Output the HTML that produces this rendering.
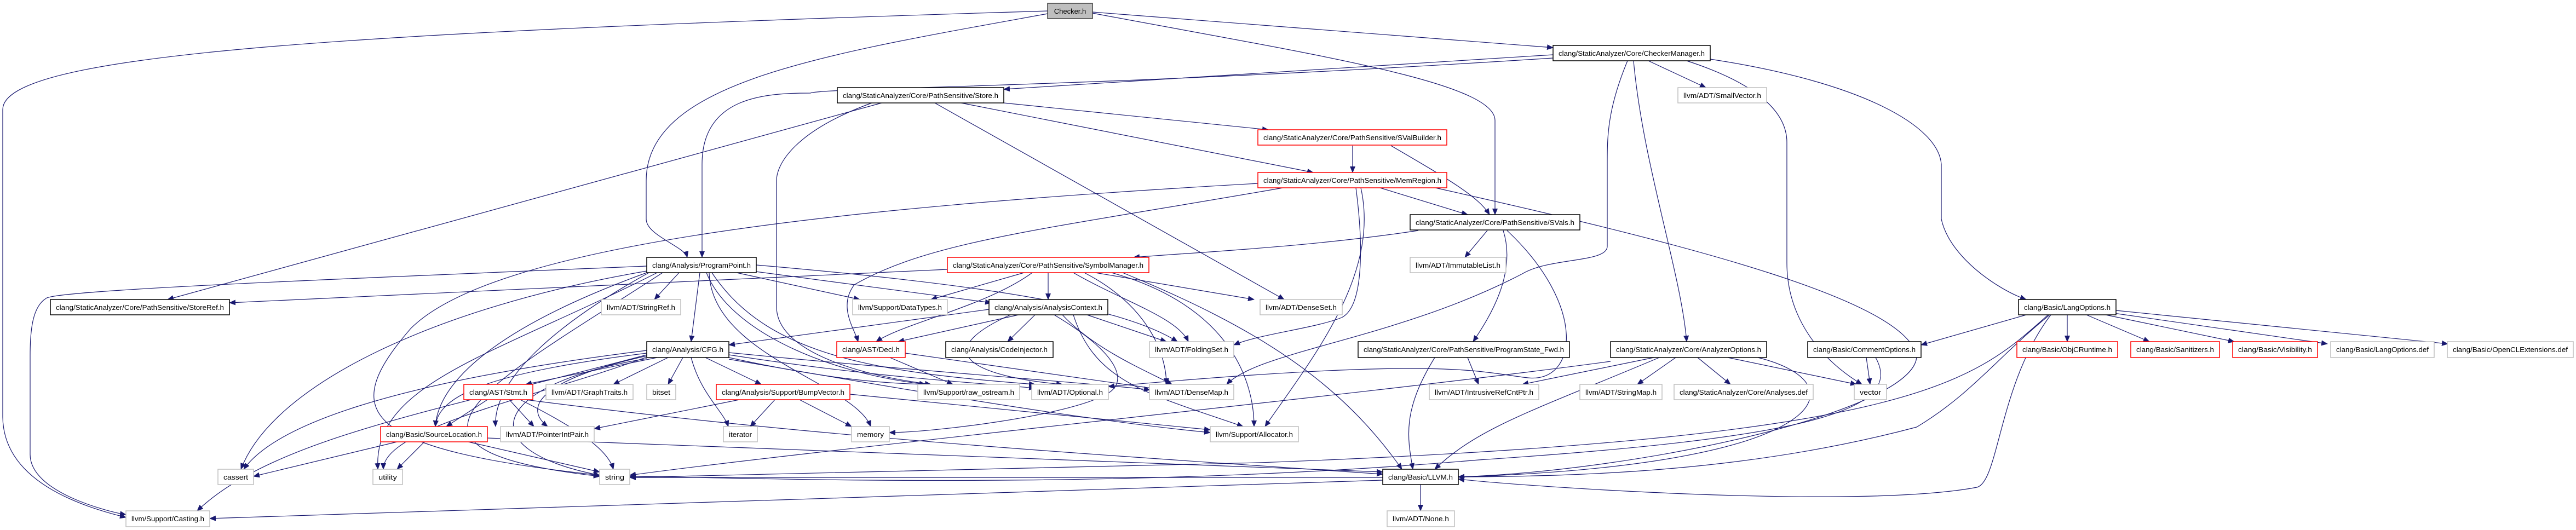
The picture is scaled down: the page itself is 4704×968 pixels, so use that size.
<!DOCTYPE html>
<html><head><meta charset="utf-8"><style>
html,body{margin:0;padding:0;background:#fff;width:4704px;height:968px;overflow:hidden}
svg{display:block}
text{font-family:"Liberation Sans",Arial,sans-serif;font-size:13px;fill:#000}
.n rect{fill:#fff}
.b rect{stroke:#000;stroke-width:1.5}
.g rect{stroke:#bfbfbf;stroke-width:1.5}
.r rect{stroke:#ff0000;stroke-width:1.5}
path{fill:none;stroke:#191970;stroke-width:1.2}
</style></head><body>
<svg width="4704" height="968" viewBox="0 0 4704 968" xmlns="http://www.w3.org/2000/svg">
<defs><marker id="a" markerUnits="userSpaceOnUse" markerWidth="12" markerHeight="10" refX="11" refY="5" orient="auto"><polygon points="0,0 12,5 0,10" fill="#191970"/></marker></defs>
<g marker-end="url(#a)">
<path d="M1913,20 C600,60 5,100 5,200 L5,760 C5,880 150,925 230,945"/>
<path d="M1913,25 C1500,100 1180,150 1180,330 L1180,400 C1180,430 1250,450 1255,470"/>
<path d="M1995,22 L2836,87"/>
<path d="M1995,24 C2400,100 2730,150 2730,220 L2730,392"/>
<path d="M2836,100 L1833,163"/>
<path d="M2836,106 C2000,160 1500,160 1480,170 C1400,170 1282,175 1282,300 L1282,470"/>
<path d="M3010,111 L3115,160"/>
<path d="M2983,111 C3000,300 3070,500 3080,624"/>
<path d="M3123,108 C3400,150 3540,230 3545,300 L3545,400 C3560,470 3650,530 3700,547"/>
<path d="M3080,111 C3200,150 3263,200 3263,260 L3263,480 C3263,620 3380,690 3400,702"/>
<path d="M2972,111 C2935,200 2935,250 2935,300 L2935,450 C2935,480 2830,470 2780,500 C2550,620 2300,640 2240,702"/>
<path d="M1610,188 L306,547"/>
<path d="M1833,188 L2316,237"/>
<path d="M1755,188 L2398,315"/>
<path d="M1707,188 L2345,547"/>
<path d="M1592,188 C1450,240 1418,300 1418,330 L1418,560 C1418,650 1600,690 1700,702"/>
<path d="M2470,266 L2470,315"/>
<path d="M2540,266 C2650,330 2700,360 2720,392"/>
<path d="M2520,343 L2680,392"/>
<path d="M2297,335 C1500,380 900,450 750,600 C620,750 650,820 1095,868"/>
<path d="M2343,343 C1900,420 1700,440 1560,520 C1530,560 1560,600 1567,624"/>
<path d="M2476,343 C2490,450 2490,560 2450,580 C2400,600 2300,610 2253,630"/>
<path d="M2485,343 C2520,500 2400,650 2310,779"/>
<path d="M2621,343 C3100,450 3480,550 3500,650 C3500,750 3000,860 2663,871"/>
<path d="M2590,421 C2400,450 2200,460 2070,470"/>
<path d="M2716,421 L2675,470"/>
<path d="M2745,421 C2770,500 2720,580 2690,624"/>
<path d="M2752,421 C2900,560 2880,700 2790,690 C2700,680 2650,650 2024,706"/>
<path d="M2620,653 C2560,750 2570,800 2580,857"/>
<path d="M2680,653 L2700,702"/>
<path d="M3020,653 L2780,702"/>
<path d="M3060,653 L2990,702"/>
<path d="M3100,653 L3160,702"/>
<path d="M3155,653 L3390,702"/>
<path d="M3030,653 C2800,750 2700,780 2620,857"/>
<path d="M2941,660 C2500,720 1500,820 1150,868"/>
<path d="M3210,653 C3400,700 3350,850 2663,871"/>
<path d="M3408,653 L3415,702"/>
<path d="M3425,653 C3480,750 3300,800 2700,840 C2000,900 1300,870 1150,870"/>
<path d="M3700,575 L3508,630"/>
<path d="M3775,575 L3775,624"/>
<path d="M3810,575 L3925,624"/>
<path d="M3845,575 L4080,624"/>
<path d="M3860,572 L4250,628"/>
<path d="M3864,567 L4470,628"/>
<path d="M3740,575 C3600,700 3500,800 2300,845 L1150,872"/>
<path d="M3743,575 C3650,650 3600,720 3500,780 C3200,860 2900,870 2663,871"/>
<path d="M3745,575 C3650,700 3650,880 3610,890 C3400,930 2800,890 2663,875"/>
<path d="M1870,498 L1700,547"/>
<path d="M1914,498 L1914,547"/>
<path d="M1885,498 C1800,560 1650,590 1600,624"/>
<path d="M2000,498 L2290,547"/>
<path d="M1960,498 C2050,550 2150,580 2170,624"/>
<path d="M1980,498 C2100,560 2130,650 2130,702"/>
<path d="M2030,498 C2250,560 2290,700 2290,779"/>
<path d="M2050,498 C2300,600 2450,700 2560,857"/>
<path d="M1730,492 L419,553"/>
<path d="M1240,498 L1195,547"/>
<path d="M1278,498 L1262,624"/>
<path d="M1345,498 L1570,547"/>
<path d="M1380,496 L1810,553"/>
<path d="M1381,484 C1800,520 2050,560 2150,624"/>
<path d="M1300,498 C1400,650 1600,680 1890,702"/>
<path d="M1290,498 C1330,600 1500,680 1690,702"/>
<path d="M1181,495 C800,560 500,700 440,857"/>
<path d="M1181,498 C900,600 800,700 795,779"/>
<path d="M1185,498 C1000,600 900,700 905,779"/>
<path d="M1200,498 C900,650 680,700 690,857"/>
<path d="M1210,498 C900,700 650,820 1095,870"/>
<path d="M1295,498 C1300,650 1560,700 1590,779"/>
<path d="M1181,486 C600,510 100,530 84,545 C60,560 55,600 55,650 L55,830 C55,900 200,935 230,940"/>
<path d="M1806,565 L1331,630"/>
<path d="M1860,575 L1640,624"/>
<path d="M1890,575 L1840,624"/>
<path d="M1985,575 L2130,624"/>
<path d="M1940,575 C2000,640 2100,680 2140,702"/>
<path d="M1960,575 C2000,700 2100,720 2270,779"/>
<path d="M1845,575 C1680,650 1800,690 1940,702"/>
<path d="M1925,575 C2050,650 2060,700 2020,720 C1950,760 1700,790 1624,790"/>
<path d="M1200,653 L960,702"/>
<path d="M1220,653 L1120,702"/>
<path d="M1247,653 L1220,702"/>
<path d="M1288,653 L1390,702"/>
<path d="M1262,653 C1280,720 1320,750 1330,779"/>
<path d="M1331,653 C1500,690 1600,700 1690,702"/>
<path d="M1331,648 C1600,690 1800,700 1890,709"/>
<path d="M1331,644 C1700,680 2000,700 2100,712"/>
<path d="M1331,656 C1700,720 2000,770 2210,790"/>
<path d="M1181,645 C900,680 800,720 795,779"/>
<path d="M1181,650 C1000,690 950,740 1000,779"/>
<path d="M1181,640 C700,700 500,780 445,857"/>
<path d="M1181,648 C800,750 500,800 360,933"/>
<path d="M1181,655 C900,700 850,820 1095,868"/>
<path d="M1181,652 C1000,720 700,780 700,857"/>
<path d="M1625,653 L1740,702"/>
<path d="M1653,645 L2110,710"/>
<path d="M890,730 L815,779"/>
<path d="M930,730 L975,779"/>
<path d="M950,730 C1050,780 1110,820 1120,857"/>
<path d="M960,730 C1500,800 2000,830 2525,866"/>
<path d="M725,807 L463,870"/>
<path d="M775,807 L725,857"/>
<path d="M855,807 L1095,862"/>
<path d="M890,800 L2525,862"/>
<path d="M1415,730 L1370,779"/>
<path d="M1460,730 L1555,779"/>
<path d="M1350,730 L1085,783"/>
<path d="M1552,720 L2210,785"/>
<path d="M2594,885 L2594,933"/>
<path d="M2525,877 L383,947"/>
<path d="M2525,872 L1150,872"/>
</g>
<g class="n">
<g><rect x="1913" y="6" width="82" height="28" fill="#bfbfbf" style="fill:#bfbfbf;stroke:#404040;stroke-width:1.5"/><text x="1954" y="25" text-anchor="middle">Checker.h</text></g>
<g class="b"><rect x="2836" y="83" width="287" height="28"/><text x="2846" y="102" textLength="267" lengthAdjust="spacingAndGlyphs">clang/StaticAnalyzer/Core/CheckerManager.h</text></g>
<g class="b"><rect x="1529" y="160" width="304" height="28"/><text x="1539" y="179" textLength="284" lengthAdjust="spacingAndGlyphs">clang/StaticAnalyzer/Core/PathSensitive/Store.h</text></g>
<g class="g"><rect x="3064" y="160" width="162" height="28"/><text x="3074" y="179" textLength="142" lengthAdjust="spacingAndGlyphs">llvm/ADT/SmallVector.h</text></g>
<g class="r"><rect x="2297" y="237" width="345" height="28"/><text x="2307" y="256" textLength="325" lengthAdjust="spacingAndGlyphs">clang/StaticAnalyzer/Core/PathSensitive/SValBuilder.h</text></g>
<g class="r"><rect x="2297" y="315" width="345" height="28"/><text x="2307" y="334" textLength="325" lengthAdjust="spacingAndGlyphs">clang/StaticAnalyzer/Core/PathSensitive/MemRegion.h</text></g>
<g class="b"><rect x="2575" y="392" width="310" height="28"/><text x="2585" y="411" textLength="290" lengthAdjust="spacingAndGlyphs">clang/StaticAnalyzer/Core/PathSensitive/SVals.h</text></g>
<g class="b"><rect x="1181" y="470" width="200" height="28"/><text x="1191" y="489" textLength="180" lengthAdjust="spacingAndGlyphs">clang/Analysis/ProgramPoint.h</text></g>
<g class="r"><rect x="1730" y="470" width="368" height="28"/><text x="1740" y="489" textLength="348" lengthAdjust="spacingAndGlyphs">clang/StaticAnalyzer/Core/PathSensitive/SymbolManager.h</text></g>
<g class="g"><rect x="2575" y="470" width="175" height="28"/><text x="2585" y="489" textLength="155" lengthAdjust="spacingAndGlyphs">llvm/ADT/ImmutableList.h</text></g>
<g class="b"><rect x="92" y="547" width="327" height="28"/><text x="102" y="566" textLength="307" lengthAdjust="spacingAndGlyphs">clang/StaticAnalyzer/Core/PathSensitive/StoreRef.h</text></g>
<g class="g"><rect x="1098" y="547" width="145" height="28"/><text x="1108" y="566" textLength="125" lengthAdjust="spacingAndGlyphs">llvm/ADT/StringRef.h</text></g>
<g class="g"><rect x="1557" y="547" width="173" height="28"/><text x="1567" y="566" textLength="153" lengthAdjust="spacingAndGlyphs">llvm/Support/DataTypes.h</text></g>
<g class="b"><rect x="1806" y="547" width="217" height="28"/><text x="1816" y="566" textLength="197" lengthAdjust="spacingAndGlyphs">clang/Analysis/AnalysisContext.h</text></g>
<g class="g"><rect x="2301" y="547" width="150" height="28"/><text x="2311" y="566" textLength="130" lengthAdjust="spacingAndGlyphs">llvm/ADT/DenseSet.h</text></g>
<g class="b"><rect x="3686" y="547" width="178" height="28"/><text x="3696" y="566" textLength="158" lengthAdjust="spacingAndGlyphs">clang/Basic/LangOptions.h</text></g>
<g class="b"><rect x="1181" y="624" width="150" height="29"/><text x="1191" y="643" textLength="130" lengthAdjust="spacingAndGlyphs">clang/Analysis/CFG.h</text></g>
<g class="r"><rect x="1528" y="624" width="125" height="29"/><text x="1538" y="643" textLength="105" lengthAdjust="spacingAndGlyphs">clang/AST/Decl.h</text></g>
<g class="b"><rect x="1727" y="624" width="196" height="29"/><text x="1737" y="643" textLength="176" lengthAdjust="spacingAndGlyphs">clang/Analysis/CodeInjector.h</text></g>
<g class="g"><rect x="2099" y="624" width="154" height="29"/><text x="2109" y="643" textLength="134" lengthAdjust="spacingAndGlyphs">llvm/ADT/FoldingSet.h</text></g>
<g class="b"><rect x="2480" y="624" width="386" height="29"/><text x="2490" y="643" textLength="366" lengthAdjust="spacingAndGlyphs">clang/StaticAnalyzer/Core/PathSensitive/ProgramState_Fwd.h</text></g>
<g class="b"><rect x="2941" y="624" width="285" height="29"/><text x="2951" y="643" textLength="265" lengthAdjust="spacingAndGlyphs">clang/StaticAnalyzer/Core/AnalyzerOptions.h</text></g>
<g class="b"><rect x="3301" y="624" width="207" height="29"/><text x="3311" y="643" textLength="187" lengthAdjust="spacingAndGlyphs">clang/Basic/CommentOptions.h</text></g>
<g class="r"><rect x="3683" y="624" width="184" height="29"/><text x="3693" y="643" textLength="164" lengthAdjust="spacingAndGlyphs">clang/Basic/ObjCRuntime.h</text></g>
<g class="r"><rect x="3891" y="624" width="162" height="29"/><text x="3901" y="643" textLength="142" lengthAdjust="spacingAndGlyphs">clang/Basic/Sanitizers.h</text></g>
<g class="r"><rect x="4077" y="624" width="155" height="29"/><text x="4087" y="643" textLength="135" lengthAdjust="spacingAndGlyphs">clang/Basic/Visibility.h</text></g>
<g class="g"><rect x="4256" y="624" width="189" height="29"/><text x="4266" y="643" textLength="169" lengthAdjust="spacingAndGlyphs">clang/Basic/LangOptions.def</text></g>
<g class="g"><rect x="4469" y="624" width="230" height="29"/><text x="4479" y="643" textLength="210" lengthAdjust="spacingAndGlyphs">clang/Basic/OpenCLExtensions.def</text></g>
<g class="r"><rect x="847" y="702" width="126" height="28"/><text x="857" y="721" textLength="106" lengthAdjust="spacingAndGlyphs">clang/AST/Stmt.h</text></g>
<g class="g"><rect x="997" y="702" width="159" height="28"/><text x="1007" y="721" textLength="139" lengthAdjust="spacingAndGlyphs">llvm/ADT/GraphTraits.h</text></g>
<g class="g"><rect x="1181" y="702" width="53" height="28"/><text x="1191" y="721" textLength="33" lengthAdjust="spacingAndGlyphs">bitset</text></g>
<g class="r"><rect x="1308" y="702" width="244" height="28"/><text x="1318" y="721" textLength="224" lengthAdjust="spacingAndGlyphs">clang/Analysis/Support/BumpVector.h</text></g>
<g class="g"><rect x="1676" y="702" width="186" height="28"/><text x="1686" y="721" textLength="166" lengthAdjust="spacingAndGlyphs">llvm/Support/raw_ostream.h</text></g>
<g class="g"><rect x="1884" y="702" width="140" height="28"/><text x="1894" y="721" textLength="120" lengthAdjust="spacingAndGlyphs">llvm/ADT/Optional.h</text></g>
<g class="g"><rect x="2099" y="702" width="154" height="28"/><text x="2109" y="721" textLength="134" lengthAdjust="spacingAndGlyphs">llvm/ADT/DenseMap.h</text></g>
<g class="g"><rect x="2610" y="702" width="200" height="28"/><text x="2620" y="721" textLength="180" lengthAdjust="spacingAndGlyphs">llvm/ADT/IntrusiveRefCntPtr.h</text></g>
<g class="g"><rect x="2885" y="702" width="150" height="28"/><text x="2895" y="721" textLength="130" lengthAdjust="spacingAndGlyphs">llvm/ADT/StringMap.h</text></g>
<g class="g"><rect x="3057" y="702" width="254" height="28"/><text x="3067" y="721" textLength="234" lengthAdjust="spacingAndGlyphs">clang/StaticAnalyzer/Core/Analyses.def</text></g>
<g class="g"><rect x="3386" y="702" width="59" height="28"/><text x="3396" y="721" textLength="39" lengthAdjust="spacingAndGlyphs">vector</text></g>
<g class="r"><rect x="695" y="779" width="195" height="28"/><text x="705" y="798" textLength="175" lengthAdjust="spacingAndGlyphs">clang/Basic/SourceLocation.h</text></g>
<g class="g"><rect x="914" y="779" width="171" height="28"/><text x="924" y="798" textLength="151" lengthAdjust="spacingAndGlyphs">llvm/ADT/PointerIntPair.h</text></g>
<g class="g"><rect x="1321" y="779" width="62" height="28"/><text x="1331" y="798" textLength="42" lengthAdjust="spacingAndGlyphs">iterator</text></g>
<g class="g"><rect x="1555" y="779" width="69" height="28"/><text x="1565" y="798" textLength="49" lengthAdjust="spacingAndGlyphs">memory</text></g>
<g class="g"><rect x="2210" y="779" width="161" height="28"/><text x="2220" y="798" textLength="141" lengthAdjust="spacingAndGlyphs">llvm/Support/Allocator.h</text></g>
<g class="g"><rect x="398" y="857" width="65" height="28"/><text x="408" y="876" textLength="45" lengthAdjust="spacingAndGlyphs">cassert</text></g>
<g class="g"><rect x="681" y="857" width="54" height="28"/><text x="691" y="876" textLength="34" lengthAdjust="spacingAndGlyphs">utility</text></g>
<g class="g"><rect x="1095" y="857" width="55" height="28"/><text x="1105" y="876" textLength="35" lengthAdjust="spacingAndGlyphs">string</text></g>
<g class="b"><rect x="2525" y="857" width="138" height="28"/><text x="2535" y="876" textLength="118" lengthAdjust="spacingAndGlyphs">clang/Basic/LLVM.h</text></g>
<g class="g"><rect x="230" y="933" width="153" height="29"/><text x="240" y="952" textLength="133" lengthAdjust="spacingAndGlyphs">llvm/Support/Casting.h</text></g>
<g class="g"><rect x="2533" y="933" width="123" height="29"/><text x="2543" y="952" textLength="103" lengthAdjust="spacingAndGlyphs">llvm/ADT/None.h</text></g>
</g>
</svg>
</body></html>
